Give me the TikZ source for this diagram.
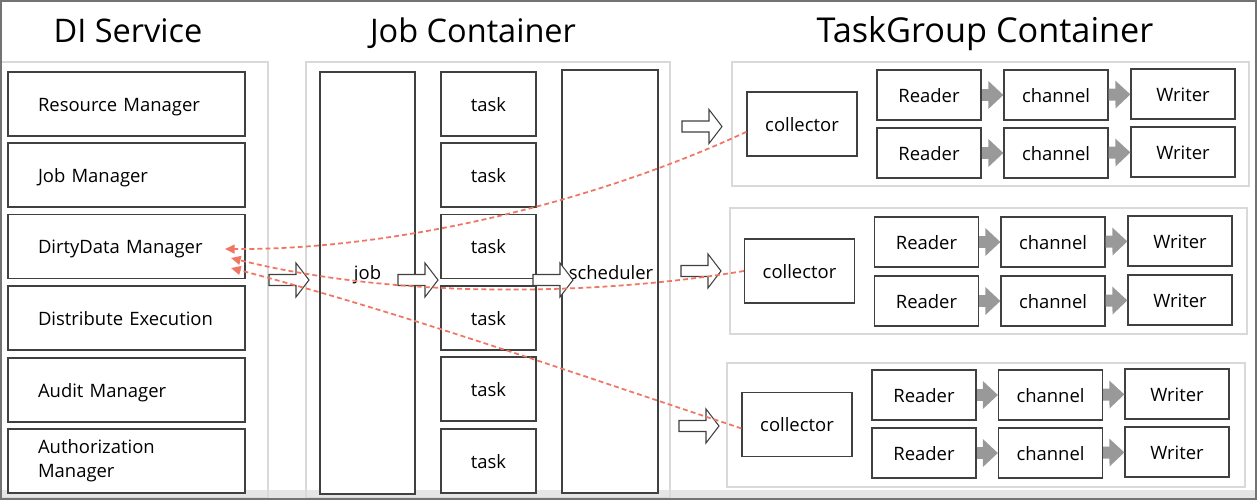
\documentclass[tikz,border=0pt]{standalone}
\usepackage{fontspec}
\setmainfont{Open Sans}
\usetikzlibrary{arrows.meta}
\definecolor{dirtyred}{RGB}{240,118,100}
\tikzset{
    >=Stealth,
    panel/.append style={draw=black!15,line width=0.6pt},
    heading/.append style={anchor=base,inner sep=0pt,font=\fontsize{18.5}{22}\selectfont},
    boxtext/.append style={inner sep=0pt,text height=2ex,text depth=.5ex,font=\fontsize{10.5}{13.5}\selectfont},
    box/.append style={boxtext,draw=black!75,line width=0.7pt,fill=white,rectangle},
    mgrbox/.append style={box,minimum width=4.74cm,minimum height=1.28cm,text width=3.54cm,align=left},
    taskbox/.append style={box,minimum width=1.9cm,minimum height=1.28cm},
    colbox/.append style={box,minimum width=2.2cm,minimum height=1.28cm},
    stagebox/.append style={box,minimum width=2.08cm,minimum height=1cm},
    flow/.append style={color=black!40,line width=0.24cm,-{Triangle[length=0.3cm,width=0.54cm]}},
    dirty/.append style={draw=dirtyred,line width=1pt,dash pattern=on 2.8pt off 1.8pt,-{Triangle[length=5.5pt,width=5pt]}},
    fatarrow/.pic={\draw[draw=black!75,line width=0.6pt,fill=white,line join=miter]
        (0,-5.5) -- (27,-5.5) -- (27,-17) -- (40,0) -- (27,17) -- (27,5.5) -- (0,5.5) -- cycle;}
}
\begin{document}
\begin{tikzpicture}[x=0.02cm,y=-0.02cm]
    \useasboundingbox (0,0) rectangle (1257,500);
    \fill[black!10] (0,490) rectangle (1257,500);
    \draw[panel] (1,62) rectangle (268,498)
                 (306,62) rectangle (670,498)
                 (732,62) rectangle (1249,186)
                 (730,208) rectangle (1247,334)
                 (727,363) rectangle (1245,487);
    \draw[black!55,line width=0.9pt] (0.8,0.8) rectangle (1256.2,499.2);

    \node[heading] (disvc) at (128,43) {DI Service};
    \node[heading] (jobcont) at (473,43) {Job Container};
    \node[heading,font=\fontsize{19.5}{22}\selectfont] (tgcont) at (985,43) {TaskGroup Container};

    % DI Service
    \node[mgrbox] (resmgr)   at (126.5,104) {Resource Manager};
    \node[mgrbox] (jobmgr)   at (126.5,175) {Job Manager};
    \node[mgrbox] (dirtymgr) at (126.5,246.5) {DirtyData Manager};
    \node[mgrbox] (distexec) at (126.5,318) {Distribute Execution};
    \node[mgrbox] (auditmgr) at (126.5,390) {Audit Manager};
    \node[mgrbox,text height={},text depth={}] (authmgr) at (126.5,461) {Authorization\\Manager};

    % Job Container
    \node[box,minimum width=1.9cm,minimum height=8.44cm] (job) at (367.5,283) {};
    \node[boxtext] (joblbl) at (367.5,272) {job};
    \node[taskbox] (task1) at (488.5,104) {task};
    \node[taskbox] (task2) at (488.5,175) {task};
    \node[taskbox] (task3) at (488.5,246.5) {task};
    \node[taskbox] (task4) at (488.5,318) {task};
    \node[taskbox] (task5) at (488.5,389) {task};
    \node[taskbox] (task6) at (488.5,461) {task};
    \node[box,minimum width=1.92cm,minimum height=8.46cm] (sched) at (610,281.5) {};
    \node[boxtext] (schedlbl) at (611,272) {scheduler};

    \pic at (269,280) {fatarrow};
    \pic at (398,280) {fatarrow};
    \pic at (533,280) {fatarrow};

    % TaskGroup Container
    \node[colbox] (coll1) at (802,124) {collector};
    \node[stagebox] (rda1) at (929,95) {Reader};
    \node[stagebox] (cha1) at (1056,95) {channel};
    \node[stagebox] (wra1) at (1183,94) {Writer};
    \node[stagebox] (rdb1) at (929,153) {Reader};
    \node[stagebox] (chb1) at (1056,153) {channel};
    \node[stagebox] (wrb1) at (1183,152) {Writer};

    \node[colbox] (coll2) at (799.5,271) {collector};
    \node[stagebox] (rda2) at (926.5,242) {Reader};
    \node[stagebox] (cha2) at (1053,242) {channel};
    \node[stagebox] (wra2) at (1180,241) {Writer};
    \node[stagebox] (rdb2) at (926.5,301) {Reader};
    \node[stagebox] (chb2) at (1053,301) {channel};
    \node[stagebox] (wrb2) at (1180,300) {Writer};

    \node[colbox] (coll3) at (797,424.5) {collector};
    \node[stagebox] (rda3) at (924,395) {Reader};
    \node[stagebox] (cha3) at (1050.5,395) {channel};
    \node[stagebox] (wra3) at (1177,394) {Writer};
    \node[stagebox] (rdb3) at (924,453) {Reader};
    \node[stagebox] (chb3) at (1050.5,453) {channel};
    \node[stagebox] (wrb3) at (1177,452) {Writer};

    \path[flow] (rda1) edge (cha1) (cha1) edge (wra1)
                (rdb1) edge (chb1) (chb1) edge (wrb1)
                (rda2) edge (cha2) (cha2) edge (wra2)
                (rdb2) edge (chb2) (chb2) edge (wrb2)
                (rda3) edge (cha3) (cha3) edge (wra3)
                (rdb3) edge (chb3) (chb3) edge (wrb3);

    \pic at (682,126.5) {fatarrow};
    \pic at (681,271) {fatarrow};
    \pic at (679,426) {fatarrow};

    \coordinate (dd1) at (225,249);
    \coordinate (dd2) at (231,258);
    \coordinate (dd3) at (231,268);
    \draw[dirty] (coll1.188) .. controls (600,200) and (400,250) .. (dd1);
    \draw[dirty] (coll2.west) .. controls (600,295) and (400,300) .. (dd2);
    \draw[dirty] (coll3.184) .. controls (570,372) and (400,312) .. (dd3);
\end{tikzpicture}
\end{document}
